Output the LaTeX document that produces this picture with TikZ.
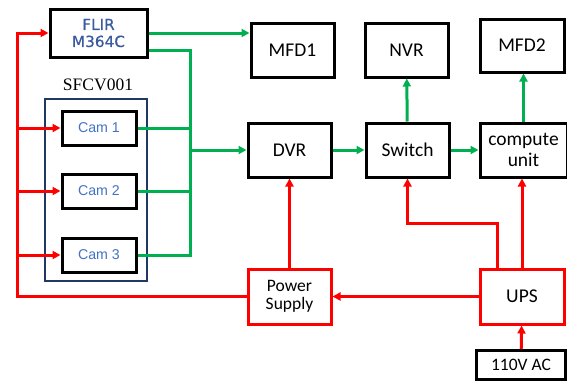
\documentclass[tikz,border=0pt]{standalone}
\usepackage{fontspec}
\setmainfont{Carlito}
\newfontfamily\camfont{Liberation Sans}
\newfontfamily\flirfont[FakeBold=0.6]{DejaVu Sans}
\newfontfamily\grpfont{Liberation Serif}
\usetikzlibrary{arrows.meta,positioning,calc}
\definecolor{cPwr}{HTML}{FF0000}
\definecolor{cSig}{HTML}{00B050}
\definecolor{cGrp}{HTML}{1F3864}
\definecolor{cCam}{HTML}{4472C4}
\definecolor{cFlir}{HTML}{3A5BA0}
\tikzset{
  blk/.style={draw=black, line width=3pt, fill=white, inner sep=0pt,
              minimum width=83pt, minimum height=54pt, align=center,
              font=\fontsize{19.5}{21}\selectfont},
  pwrblk/.style={blk, draw=cPwr},
  camblk/.style={blk, minimum width=74pt, minimum height=34pt, text=cCam,
                 font=\camfont\fontsize{14.2}{16}\selectfont},
  grpbox/.style={draw=cGrp, line width=2.2pt, inner sep=0pt},
  sig/.style={cSig, line width=3pt},
  sigarr/.style={sig, -{Triangle[length=8pt,width=8pt]}},
  pwr/.style={cPwr, line width=3pt},
  pwrarr/.style={pwr, -{Triangle[length=8pt,width=8pt]}}
}

\begin{document}
\begin{tikzpicture}[x=1pt, y=1pt]
\useasboundingbox (0,0) rectangle (567,-381);
% camera group (left)
\node[grpbox, minimum width=102pt, minimum height=182pt] (sfcv) at (96,-190) {};
\node[anchor=base, font=\grpfont\fontsize{17.5}{19}\selectfont] (sfcvlbl) at (98,-90) {SFCV001};
\node[blk, minimum width=97pt, minimum height=48pt, text=cFlir,
      font=\flirfont\fontsize{15.3}{17}\selectfont] (flir) at (98.5,-33) {FLIR\\M364C};
\node[camblk] (cam1) at (99,-128) {Cam 1};
\node[camblk] (cam2) at (99,-191) {Cam 2};
\node[camblk] (cam3) at (99,-255) {Cam 3};
% recorders and network
\node[blk] (mfd1) at (292.5,-50) {MFD1};
\node[blk] (dvr) at (289.5,-150) {DVR};
\node[blk, right=32pt of dvr] (switch) {Switch};
\node[blk] (nvr) at (406.5,-50) {NVR};
\node[blk, minimum width=87pt, right=28pt of switch] (cu) {compute\\unit};
\node[blk, minimum width=84pt, minimum height=53pt] (mfd2) at (522,-45.5) {MFD2};
% power
\node[pwrblk, minimum height=55pt, font=\fontsize{17.5}{18.5}\selectfont] (ps) at (289.5,-296.5) {Power\\Supply};
\node[pwrblk, minimum width=84pt, minimum height=55pt] (ups) at (522,-296.5) {UPS};
\node[blk, minimum width=89pt, minimum height=29pt, font=\fontsize{17.5}{19}\selectfont] (ac) at (521,-365) {110V AC};
% signal wiring
\coordinate (gbus) at (190,0);
\coordinate (flir2) at ([yshift=-17pt]flir.east);
\draw[sigarr] (flir.east) -- (flir.east -| mfd1.west);
\draw[sig] (flir2) -| (gbus |- cam3.east) -- (cam3.east);
\draw[sig] (cam1.east) -- (gbus |- cam1.east);
\draw[sig] (cam2.east) -- (gbus |- cam2.east);
\draw[sigarr] (gbus |- dvr.west) -- (dvr.west);
\draw[sigarr] (dvr) -- (switch);
\draw[sigarr] (switch) -- (cu);
\draw[sigarr] (switch) -- (nvr);
\draw[sigarr] (cu.north) -- (cu.north |- mfd2.south);
% power wiring
\coordinate (lbus) at (17,0);
\draw[pwrarr] (ps.west) -| (lbus |- flir.west) -- (flir.west);
\foreach \c in {cam1,cam2,cam3}
  \draw[pwrarr] (lbus |- \c.west) -- (\c.west);
\draw[pwrarr] (ps) -- (dvr);
\draw[pwrarr] (ups) -- (ps);
\draw[pwrarr] (ac) -- (ups);
\draw[pwrarr] (ups.north) -- (ups.north |- cu.south);
\draw[pwrarr] ([xshift=-25pt]ups.north) -- ++(0,44) -| (switch.south);
\end{tikzpicture}
\end{document}
